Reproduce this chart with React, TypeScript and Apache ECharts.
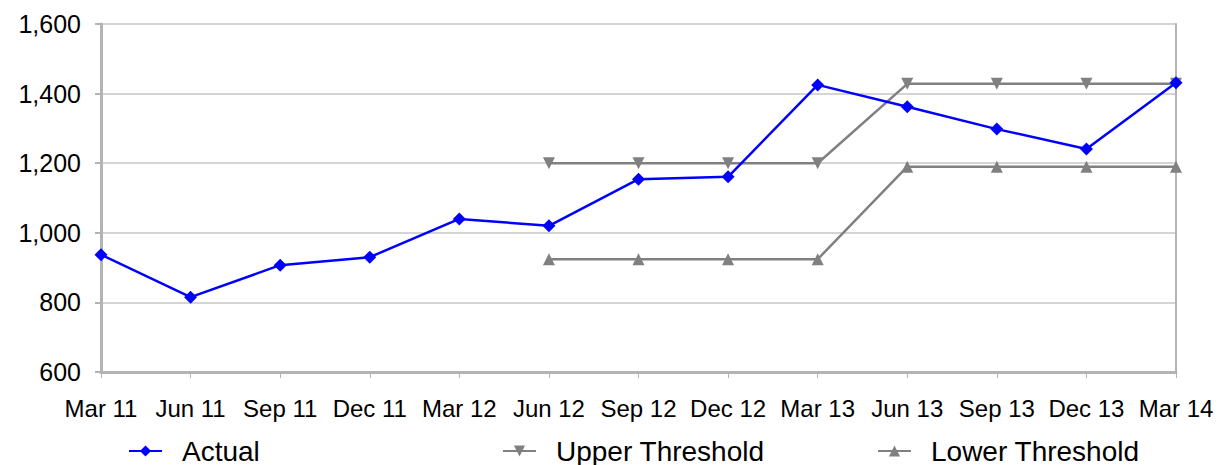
import React, { useEffect, useRef } from "react";
import * as echarts from "echarts";

const categories = ["Mar 11", "Jun 11", "Sep 11", "Dec 11", "Mar 12", "Jun 12", "Sep 12", "Dec 12", "Mar 13", "Jun 13", "Sep 13", "Dec 13", "Mar 14"];
const actual = [937, 815, 907, 930, 1040, 1020, 1154, 1161, 1425, 1362, 1298, 1241, 1431];
const upper = [null, null, null, null, null, 1200, 1200, 1200, 1200, 1428, 1428, 1428, 1428];
const lower = [null, null, null, null, null, 924, 924, 924, 924, 1190, 1190, 1190, 1190];

const FONT = "Liberation Sans, Arial, sans-serif";

export default function App() {
  const ref = useRef<HTMLDivElement>(null);
  useEffect(() => {
    const chart = echarts.init(ref.current!, null, { renderer: "svg" });
    const legendBase = {
      orient: "horizontal",
      top: 437,
      padding: 0,
      itemWidth: 33,
      itemHeight: 14,
      itemGap: 10,
      textStyle: { fontFamily: FONT, fontSize: 28, color: "#000", padding: [0, 0, 0, 15] },
    };
    chart.setOption({
      animation: false,
      textStyle: { fontFamily: FONT },
      grid: { left: 101, right: 45, top: 24, bottom: 93, containLabel: false },
      legend: [
        { ...legendBase, left: 128, data: ["Actual"] },
        { ...legendBase, left: 502, data: ["Upper Threshold"] },
        { ...legendBase, left: 877, data: ["Lower Threshold"] },
      ],
      xAxis: {
        type: "category",
        data: categories,
        boundaryGap: false,
        axisLine: { show: true, lineStyle: { color: "#b3b3b3", width: 3 } },
        axisTick: { show: true, length: 6, lineStyle: { color: "#b3b3b3", width: 1 } },
        axisLabel: { fontFamily: FONT, fontSize: 24, color: "#000", margin: 24, interval: 0 },
        splitLine: { show: false },
      },
      yAxis: [
        {
          type: "value",
          min: 600,
          max: 1600,
          interval: 200,
          axisLine: { show: true, lineStyle: { color: "#b3b3b3", width: 3 } },
          axisTick: { show: true, length: 6, lineStyle: { color: "#b3b3b3", width: 2 } },
          axisLabel: {
            fontFamily: FONT,
            fontSize: 25,
            color: "#000",
            margin: 20,
            formatter: (v: number) => v.toLocaleString("en-US"),
          },
          splitLine: { show: true, lineStyle: { color: "#d4d4d4", width: 2 } },
        },
        {
          type: "value",
          min: 600,
          max: 1600,
          interval: 200,
          position: "right",
          axisLine: { show: true, lineStyle: { color: "#b3b3b3", width: 2 } },
          axisTick: { show: false },
          axisLabel: { show: false },
          splitLine: { show: false },
        },
      ],
      series: [
        {
          name: "Upper Threshold",
          type: "line",
          data: upper,
          symbol: "triangle",
          symbolRotate: 180,
          symbolSize: 12,
          lineStyle: { color: "#808080", width: 2.5 },
          itemStyle: { color: "#808080" },
          z: 2,
        },
        {
          name: "Lower Threshold",
          type: "line",
          data: lower,
          symbol: "triangle",
          symbolSize: 12,
          lineStyle: { color: "#808080", width: 2.5 },
          itemStyle: { color: "#808080" },
          z: 2,
        },
        {
          name: "Actual",
          type: "line",
          data: actual,
          symbol: "diamond",
          symbolSize: 13,
          lineStyle: { color: "#0000ff", width: 2.5 },
          itemStyle: { color: "#0000ff" },
          z: 3,
        },
      ],
    });
    return () => chart.dispose();
  }, []);
  return (
    <div
      ref={ref}
      style={{ position: "fixed", left: 0, top: 0, width: 1221, height: 465, background: "#fff" }}
    />
  );
}
